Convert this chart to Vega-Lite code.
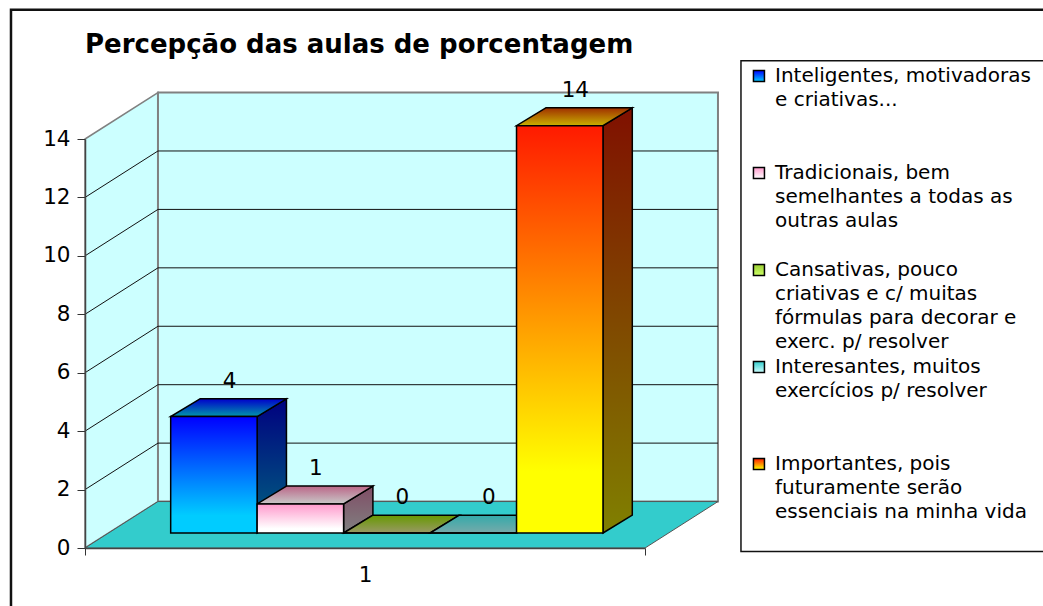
{
"$schema":"https://vega.github.io/schema/vega-lite/v6.json",
"autosize":"none",
"width":560,"height":409,
"padding":{"left":85,"top":139,"right":398,"bottom":58},
"background":"white",
"title":{"text":"Percepção das aulas de porcentagem","anchor":"start","frame":"group","offset":-49,"font":"DejaVu Sans","fontSize":26,"fontWeight":"bold","color":"black"},
"config":{"view":{"stroke":null},"font":"DejaVu Sans"},
"params":[
{"name":"series","value":["Inteligentes, motivadoras\ne criativas...","Tradicionais, bem\nsemelhantes a todas as\noutras aulas","Cansativas, pouco\ncriativas e c/ muitas\nfórmulas para decorar e\nexerc. p/ resolver","Interesantes, muitos\nexercícios p/ resolver","Importantes, pois\nfuturamente serão\nessenciais na minha vida"]},
{"name":"frontA","value":["#0000ff","#ff99cc","#99cc33","#33cccc","#ff1a00"]},
{"name":"frontB","value":["#00ccff","#ffffff","#ccff66","#ccffff","#ffff00"]},
{"name":"topA","value":["#0000cc","#bb6688","#669900","#33aaaa","#a03000"]},
{"name":"topB","value":["#0099aa","#c8c8c8","#999966","#77aaaa","#c8b000"]},
{"name":"sideA","value":["#000080","#804d66","#4d6600","#1a6666","#801000"]},
{"name":"sideB","value":["#006680","#808080","#666633","#668080","#808000"]}
],
"datasets":{
"bars":[
{"serie":"Inteligentes, motivadoras\ne criativas...","valor":4,"ordem":0},
{"serie":"Tradicionais, bem\nsemelhantes a todas as\noutras aulas","valor":1,"ordem":1},
{"serie":"Cansativas, pouco\ncriativas e c/ muitas\nfórmulas para decorar e\nexerc. p/ resolver","valor":0,"ordem":2},
{"serie":"Interesantes, muitos\nexercícios p/ resolver","valor":0,"ordem":3},
{"serie":"Importantes, pois\nfuturamente serão\nessenciais na minha vida","valor":14,"ordem":4}
],
"ticks":[{"v":0},{"v":2},{"v":4},{"v":6},{"v":8},{"v":10},{"v":12},{"v":14}],
"depth":[{"d":0},{"d":1}],
"um":[{"item":"moldura"}]
},
"layer":[
{"data":{"name":"um"},"mark":{"type":"rect","fill":null,"stroke":"#111111","strokeWidth":2.5},
"encoding":{"x":{"datum":-0.856,"type":"quantitative"},"x2":{"datum":13},"y":{"datum":18.42,"type":"quantitative"},"y2":{"datum":-6}}},
{"data":{"name":"um"},"mark":{"type":"rect","fill":null,"stroke":"#111111","strokeWidth":1.5},
"encoding":{"x":{"datum":7.587,"type":"quantitative"},"x2":{"datum":13},"y":{"datum":16.68,"type":"quantitative"},"y2":{"datum":-0.12}}},
{"data":{"name":"depth"},"transform":[{"calculate":"datum.d*0.844","as":"xa"},{"calculate":"datum.d*1.59","as":"ya"},{"calculate":"14+datum.d*1.59","as":"yb"}],
"mark":{"type":"area","fill":"#ccffff","stroke":"#808080","strokeWidth":1.5},
"encoding":{"x":{"field":"xa","type":"quantitative","scale":{"domain":[0,6.477],"nice":false,"zero":false},"axis":{"zindex":1,"values":[0,3.2385,6.477],"title":null,"grid":false,"labelExpr":"datum.value==3.2385?'1':''","tickColor":{"condition":{"test":"datum.value==3.2385","value":"transparent"},"value":"#333333"},"tickSize":7,"domainColor":"#444444","domainWidth":1.5,"labelFontSize":21.5,"labelColor":"black","labelFont":"DejaVu Sans","labelPadding":9}},
"y":{"field":"ya","type":"quantitative","scale":{"domain":[0,14],"nice":false,"zero":false},"axis":{"zindex":1,"values":[0,2,4,6,8,10,12,14],"title":null,"grid":false,"tickSize":8,"tickColor":"#333333","domainColor":"#444444","domainWidth":1.5,"labelFontSize":21.5,"labelColor":"black","labelFont":"DejaVu Sans","labelPadding":7}},
"y2":{"field":"yb"}}},
{"data":{"name":"um"},"mark":{"type":"rect","fill":"#ccffff","stroke":"#808080","strokeWidth":2},
"encoding":{"x":{"datum":0.844,"type":"quantitative"},"x2":{"datum":7.321},"y":{"datum":1.59,"type":"quantitative"},"y2":{"datum":15.59}}},
{"data":{"name":"ticks"},"transform":[{"filter":"datum.v>0&&datum.v<14"},{"calculate":"datum.v+1.59","as":"yg"},{"calculate":"0.844","as":"xa"},{"calculate":"6.477+0.844","as":"xb"}],
"mark":{"type":"rule","color":"#111111","strokeWidth":1},
"encoding":{"x":{"field":"xa","type":"quantitative"},"x2":{"field":"xb"},"y":{"field":"yg","type":"quantitative"}}},
{"data":{"name":"ticks"},"transform":[{"filter":"datum.v>0&&datum.v<14"},{"calculate":"datum.v+1.59","as":"yg"},{"calculate":"0","as":"xa"},{"calculate":"0.844","as":"xb"}],
"mark":{"type":"rule","color":"#111111","strokeWidth":1},
"encoding":{"x":{"field":"xa","type":"quantitative"},"x2":{"field":"xb"},"y":{"field":"v","type":"quantitative"},"y2":{"field":"yg"}}},
{"data":{"name":"depth"},"transform":[{"calculate":"datum.d*0.844","as":"xa"},{"calculate":"6.477+datum.d*0.844","as":"xb"},{"calculate":"datum.d*1.59","as":"ya"}],
"mark":{"type":"area","orient":"horizontal","fill":"#33cccc","stroke":"#555555","strokeWidth":1},
"encoding":{"x":{"field":"xa","type":"quantitative"},"x2":{"field":"xb"},"y":{"field":"ya","type":"quantitative"}}},
{"data":{"name":"bars"},"transform":[{"calculate":"[0,1]","as":"dd"},{"flatten":["dd"]},{"calculate":"datum.ordem+1.991+datum.dd*0.339","as":"xa"},{"calculate":"0.513+datum.dd*0.61","as":"ya"},{"calculate":"datum.valor*0.996+0.513+datum.dd*0.61","as":"yb"}],
"mark":{"type":"area","stroke":"black","strokeWidth":1.5,"fill":{"expr":"{gradient:'linear',x1:0,y1:0,x2:0,y2:1,stops:[{offset:0,color:sideA[datum.ordem]},{offset:1,color:sideB[datum.ordem]}]}"}},
"encoding":{"x":{"field":"xa","type":"quantitative"},"y":{"field":"ya","type":"quantitative"},"y2":{"field":"yb"},"detail":{"field":"serie"}}},
{"data":{"name":"bars"},"transform":[{"calculate":"[0,1]","as":"dd"},{"flatten":["dd"]},{"calculate":"datum.ordem+0.991+datum.dd*0.339","as":"xa"},{"calculate":"datum.ordem+1.991+datum.dd*0.339","as":"xb"},{"calculate":"datum.valor*0.996+0.513+datum.dd*0.61","as":"ya"}],
"mark":{"type":"area","orient":"horizontal","stroke":"black","strokeWidth":1.5,"fill":{"expr":"{gradient:'linear',x1:0,y1:0,x2:0,y2:1,stops:[{offset:0,color:topA[datum.ordem]},{offset:1,color:topB[datum.ordem]}]}"}},
"encoding":{"x":{"field":"xa","type":"quantitative"},"x2":{"field":"xb"},"y":{"field":"ya","type":"quantitative"},"detail":{"field":"serie"}}},
{"data":{"name":"bars"},"transform":[{"calculate":"datum.ordem+0.991","as":"xa"},{"calculate":"datum.ordem+1.991","as":"xb"},{"calculate":"0.513","as":"ya"},{"calculate":"datum.valor*0.996+0.513","as":"yb"}],
"mark":{"type":"rect","stroke":"black","strokeWidth":1.5,"fill":{"expr":"{gradient:'linear',x1:0,y1:0,x2:0,y2:1,stops:[{offset:0,color:frontA[datum.ordem]},{offset:0.85,color:frontB[datum.ordem]},{offset:1,color:frontB[datum.ordem]}]}"}},
"encoding":{"x":{"field":"xa","type":"quantitative"},"x2":{"field":"xb"},"y":{"field":"ya","type":"quantitative"},"y2":{"field":"yb"}}},
{"data":{"name":"bars"},"transform":[{"calculate":"datum.ordem+1.491+0.18","as":"xa"},{"calculate":"datum.valor*0.996+0.513+1.2","as":"ya"}],
"mark":{"type":"text","font":"DejaVu Sans","fontSize":21.5,"color":"black","baseline":"middle"},
"encoding":{"x":{"field":"xa","type":"quantitative"},"y":{"field":"ya","type":"quantitative"},"text":{"field":"valor","type":"quantitative"}}},
{"data":{"name":"bars"},"transform":[{"calculate":"datum.ordem+1.491","as":"xa"}],
"mark":{"type":"point","opacity":0},
"encoding":{"x":{"field":"xa","type":"quantitative"},"y":{"field":"valor","type":"quantitative"},
"fill":{"field":"serie","type":"nominal","scale":{"domain":{"expr":"series"},"range":["#0000ff","#ff99cc","#99cc33","#33cccc","#ff1a00"]},
"legend":{"orient":"none","legendX":665,"legendY":-72,"title":null,"symbolType":"square","symbolSize":121,"symbolOpacity":0,"labelFont":"DejaVu Sans","labelFontSize":20,"labelColor":"black","labelLimit":400,"labelBaseline":"top","labelOffset":5,"rowPadding":5,"padding":0,"labelExpr":"slice(split(datum.label+'\\n\\n\\n','\\n'),0,4)",
"encoding":{"labels":{"lineHeight":{"value":24},"dy":{"value":-11}},"symbols":{"opacity":{"value":0}}}}}}},
{"data":{"name":"bars"},"transform":[{"calculate":"7.795","as":"xa"},{"calculate":"16.157-datum.ordem*3.32","as":"ya"}],
"mark":{"type":"point","shape":"square","size":121,"opacity":1,"stroke":"black","strokeWidth":1.5,"fill":{"expr":"{gradient:'linear',x1:0,y1:0,x2:0,y2:1,stops:[{offset:0,color:frontA[datum.ordem]},{offset:1,color:frontB[datum.ordem]}]}"}},
"encoding":{"x":{"field":"xa","type":"quantitative"},"y":{"field":"ya","type":"quantitative"}}}
]
}
